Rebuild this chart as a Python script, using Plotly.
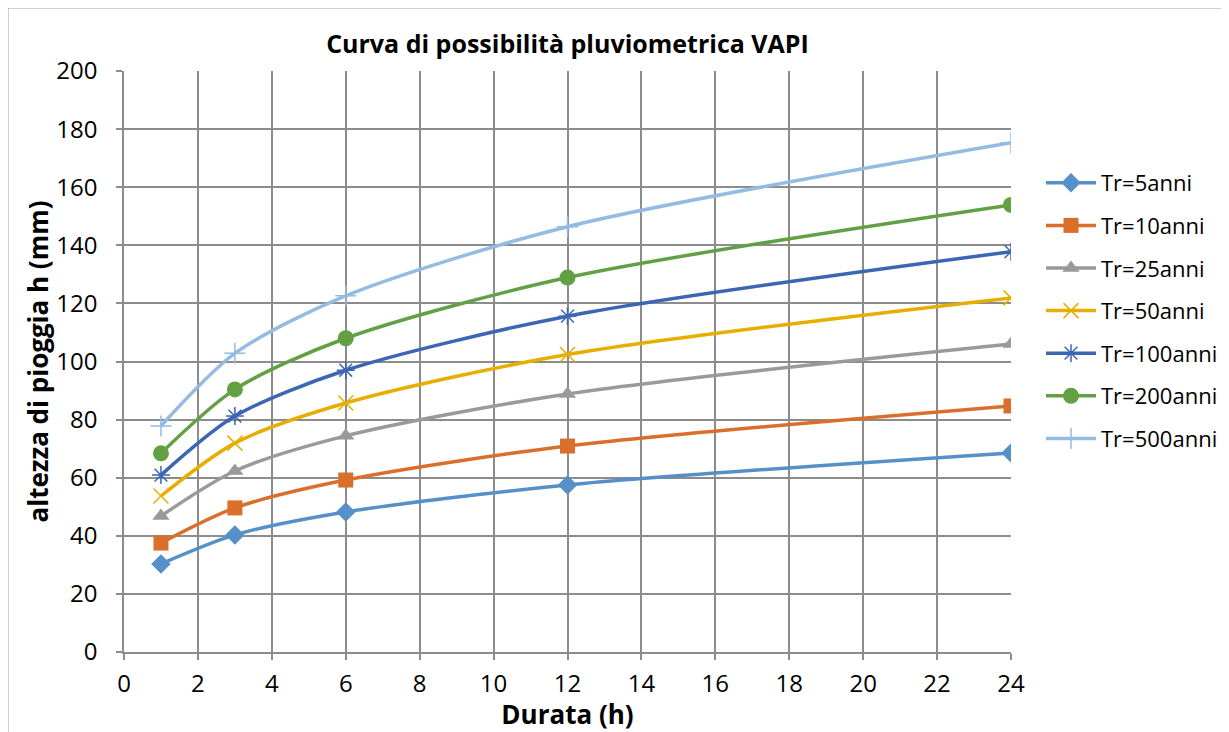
import plotly.graph_objects as go

durata = [1, 3, 6, 12, 24]
series_names = ["Tr=5anni", "Tr=10anni", "Tr=25anni", "Tr=50anni", "Tr=100anni", "Tr=200anni", "Tr=500anni"]
tr5 = [30.3, 40.3, 48.2, 57.5, 68.5]
tr10 = [37.5, 49.6, 59.2, 70.9, 84.7]
tr25 = [46.8, 62.3, 74.4, 88.8, 106.0]
tr50 = [53.7, 71.9, 85.7, 102.4, 121.9]
tr100 = [60.9, 81.2, 97.0, 115.6, 137.8]
tr200 = [68.4, 90.4, 108.0, 128.9, 153.9]
tr500 = [77.8, 102.8, 122.6, 146.4, 175.3]
values = [tr5, tr10, tr25, tr50, tr100, tr200, tr500]

colors = ["#5590C8", "#DA6E2B", "#9A9A9A", "#E6AE00", "#3C65B4", "#63A043", "#94BCE3"]
symbols = ["diamond", "square", "triangle-up", "x-thin", "asterisk", "circle", "cross-thin"]
msizes = [15, 15, 15, 15, 15, 16, 15]

fig = go.Figure()
for i, (name, vals) in enumerate(zip(series_names, values)):
    thin = symbols[i] in ("x-thin", "asterisk", "cross-thin")
    fig.add_trace(go.Scatter(
        x=durata, y=vals, name=name, mode="lines+markers",
        legendgroup=name,
        line=dict(color=colors[i], width=3.5, shape="spline", smoothing=0.8),
        marker=dict(symbol=symbols[i], size=msizes[i], color=colors[i],
                    line=dict(color=colors[i], width=1.5 if thin else 0)),
    ))

grid = "#8C8C8C"
W, H = 1221, 724   # page body adds an 8px offset
L, R, T, B = 116, 218, 63, 80
PW, PH = W - L - R, H - T - B
fig.update_layout(
    width=W, height=H,
    margin=dict(l=L, r=R, t=T, b=B, autoexpand=False),
    paper_bgcolor="white", plot_bgcolor="white",
    font=dict(family="Open Sans, Lato, sans-serif", color="black", size=24),
    title=dict(text="<b>Curva di possibilità pluviometrica VAPI</b>",
               x=0.5, xanchor="center", xref="paper", y=1 - 36 / H, yanchor="middle",
               font=dict(size=25)),
    showlegend=True,
    legend=dict(x=(1041 - 8 - L) / PW, xanchor="left", y=1 - (162 - 8 - T) / PH, yanchor="top",
                tracegroupgap=11, font=dict(size=22),
                bgcolor="rgba(0,0,0,0)", itemwidth=50),
    shapes=[dict(type="rect", xref="paper", yref="paper",
                 x0=-L / PW, x1=(W + 10 - L) / PW,
                 y0=-0.5, y1=1 + T / PH,
                 line=dict(color="#A0A0A0", width=1), layer="below")],
)
fig.update_xaxes(range=[0, 24], dtick=2, tick0=0, showgrid=True, gridcolor=grid, gridwidth=1.5,
                 showline=True, linecolor=grid, linewidth=1.5, ticks="outside", ticklen=6,
                 tickcolor=grid, tickwidth=1.5, zeroline=False, ticklabelstandoff=3,
                 title=dict(text="<b>Durata (h)</b>", font=dict(size=26), standoff=0))
fig.update_yaxes(range=[0, 200], dtick=20, showgrid=True, gridcolor=grid, gridwidth=1.5,
                 showline=True, linecolor=grid, linewidth=1.5, ticks="outside", ticklen=6,
                 tickcolor=grid, tickwidth=1.5, zeroline=False, ticklabelstandoff=14,
                 title=dict(text="<b>altezza di pioggia h (mm)</b>", font=dict(size=26), standoff=0))

fig.write_html("out.html")
